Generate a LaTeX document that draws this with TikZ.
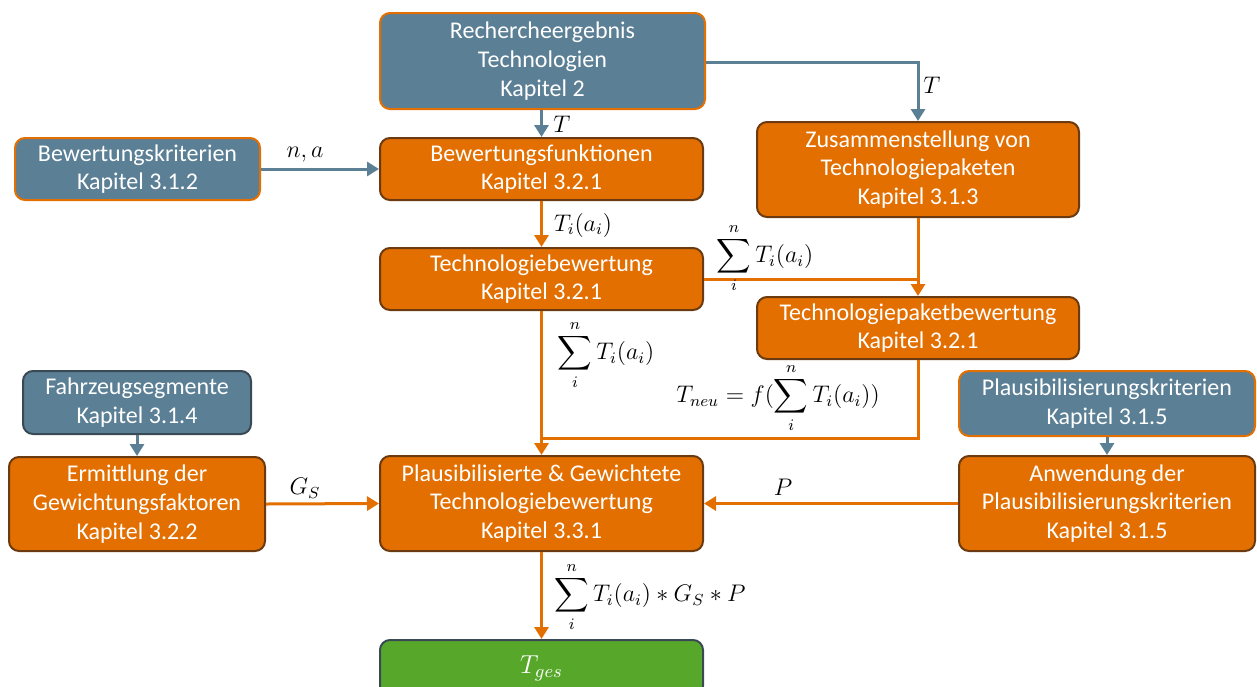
\RequirePackage{fix-cm}
\documentclass[tikz,border=0pt]{standalone}
\usepackage{amsmath}
\usepackage{fontspec}
\setmainfont{Carlito}
\usetikzlibrary{arrows.meta}
\definecolor{cblue}{HTML}{5B7F95}
\definecolor{corange}{HTML}{E36F00}
\definecolor{cgreen}{HTML}{57A82A}
\definecolor{cbrown}{HTML}{6B3A10}
\definecolor{cdark}{HTML}{3A4A55}
\begin{document}
\begin{tikzpicture}[x=0.5pt,y=-0.5pt,
  box/.style={rounded corners=5pt, line width=1pt, text=white, align=center, inner sep=0pt,
              font=\fontsize{12}{14.4}\selectfont},
  obox/.style={box, fill=corange, draw=cbrown},
  bbox/.style={box, fill=cblue, draw=corange},
  bboxd/.style={box, fill=cblue, draw=cdark},
  gbox/.style={box, fill=cgreen, draw=cdark},
  tip/.style={-{Triangle[width=7pt,length=6pt]}},
  bline/.style={draw=cblue, line width=1.5pt},
  oline/.style={draw=corange, line width=1.5pt},
  lab/.style={font=\fontsize{12}{14}\selectfont, text=black, inner sep=0pt}
]
\useasboundingbox (0,0) rectangle (1257,686);

% boxes
\node[bbox, minimum width=162.5pt, minimum height=48pt] (R) at (542.5,61)
  {Rechercheergebnis\\Technologien\\Kapitel 2};
\node[obox, minimum width=161.5pt, minimum height=31pt] (BF) at (541.5,169)
  {Bewertungsfunktionen\\Kapitel 3.2.1};
\node[bbox, minimum width=122.5pt, minimum height=31pt] (BK) at (137.5,169)
  {Bewertungskriterien\\Kapitel 3.1.2};
\node[obox, minimum width=161pt, minimum height=47.5pt] (ZT) at (918,169.5)
  {Zusammenstellung von\\Technologiepaketen\\Kapitel 3.1.3};
\node[obox, minimum width=161.5pt, minimum height=31pt] (TB) at (541.5,279)
  {Technologiebewertung\\Kapitel 3.2.1};
\node[obox, minimum width=161pt, minimum height=31pt] (TPB) at (918,328)
  {Technologiepaketbewertung\\Kapitel 3.2.1};
\node[bboxd, minimum width=114pt, minimum height=31.5pt] (FS) at (137,402.5)
  {Fahrzeugsegmente\\Kapitel 3.1.4};
\node[bbox, minimum width=148pt, minimum height=32.5pt] (PK) at (1107,403.5)
  {Plausibilisierungskriterien\\Kapitel 3.1.5};
\node[obox, minimum width=128pt, minimum height=47pt] (EG) at (137,504)
  {Ermittlung der\\Gewichtungsfaktoren\\Kapitel 3.2.2};
\node[obox, minimum width=161.5pt, minimum height=47.5pt] (PG) at (541.5,503.5)
  {Plausibilisierte \& Gewichtete\\Technologiebewertung\\Kapitel 3.3.1};
\node[obox, minimum width=148pt, minimum height=47.5pt] (AP) at (1107,503.5)
  {Anwendung der\\Plausibilisierungskriterien\\Kapitel 3.1.5};
\node[gbox, minimum width=161.5pt, minimum height=28pt, font=\fontsize{13}{15}\selectfont] (TG) at (541.5,668)
  {$T_{ges}$};

% helper coordinates
\coordinate (jTB) at (ZT.south |- TB.east);
\coordinate (jPG) at (541.5,438);

% connectors
\draw[bline, tip] (R.south -| BF.north) -- (BF.north);
\draw[bline, tip] (R.east |- 0,62) -| (ZT.north);
\draw[bline, tip] (BK.east) -- (BF.west);
\draw[oline, tip] (BF.south) -- (TB.north);
\draw[oline] (TB.east) -- (jTB);
\draw[oline, tip] (ZT.south) -- (TPB.north);
\draw[oline, tip] (TB.south) -- (PG.north);
\draw[oline] (TPB.south) |- (jPG);
\draw[bline, tip] (FS.south) -- (EG.north);
\draw[oline, tip] (EG.east) -- (PG.west);
\draw[oline, tip] (AP.west) -- (PG.east);
\draw[bline, tip] (PK.south) -- (AP.north);
\draw[oline, tip] (PG.south) -- (TG.north);

% labels
\node[lab] (l1) at (562,124) {$T$};
\node[lab] (l2) at (932,85) {$T$};
\node[lab] (l3) at (305,155) {$n,a$};
\node[lab] (l4) at (583,225) {$T_i(a_i)$};
\node[lab] (l5) at (765,258) {$\displaystyle\sum_{i}^{n} T_i(a_i)$};
\node[lab] (l6) at (606,355) {$\displaystyle\sum_{i}^{n} T_i(a_i)$};
\node[lab] (l7) at (778,398) {$\displaystyle T_{neu} = f(\sum_{i}^{n} T_i(a_i))$};
\node[lab] (l8) at (305,488) {$G_S$};
\node[lab] (l9) at (783,487) {$P$};
\node[lab] (l10) at (650,597) {$\displaystyle\sum_{i}^{n} T_i(a_i) * G_S * P$};
\end{tikzpicture}
\end{document}
